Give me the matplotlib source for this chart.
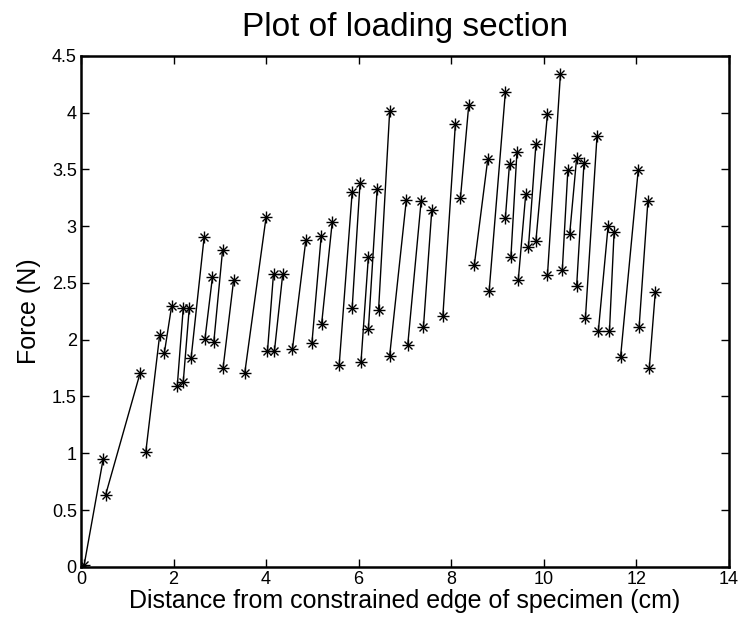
import matplotlib.pyplot as plt
import numpy as np

# each loading section: start (low) point -> end (high) point
x_start = [0.07, 0.53, 1.40, 1.80, 2.08, 2.21, 2.38, 2.68, 2.87, 3.07,
           3.54, 4.03, 4.18, 4.57, 4.99, 5.20, 5.58, 5.86, 6.05, 6.21,
           6.43, 6.67, 7.06, 7.40, 7.82, 8.20, 8.50, 8.82, 9.17, 9.29,
           9.45, 9.67, 9.83, 10.08, 10.40, 10.56, 10.71, 10.90, 11.18, 11.42,
           11.66, 12.06, 12.28]
y_start = [0.02, 0.63, 1.01, 1.88, 1.59, 1.63, 1.84, 2.01, 1.98, 1.75,
           1.71, 1.90, 1.90, 1.92, 1.97, 2.14, 1.78, 2.28, 1.80, 2.09,
           2.26, 1.86, 1.95, 2.11, 2.21, 3.25, 2.66, 2.43, 3.07, 2.73,
           2.53, 2.82, 2.87, 2.57, 2.61, 2.93, 2.47, 2.19, 2.08, 2.08,
           1.85, 2.11, 1.75]
x_end = [0.48, 1.28, 1.70, 1.96, 2.21, 2.34, 2.66, 2.84, 3.06, 3.30,
         4.00, 4.16, 4.36, 4.86, 5.19, 5.43, 5.86, 6.03, 6.21, 6.40,
         6.67, 7.03, 7.35, 7.58, 8.09, 8.38, 8.79, 9.17, 9.26, 9.42,
         9.61, 9.83, 10.08, 10.36, 10.52, 10.71, 10.87, 11.15, 11.39, 11.52,
         12.04, 12.25, 12.41]
y_end = [0.95, 1.71, 2.04, 2.30, 2.28, 2.28, 2.90, 2.55, 2.79, 2.53,
         3.08, 2.58, 2.58, 2.88, 2.91, 3.04, 3.30, 3.38, 2.73, 3.33,
         4.01, 3.23, 3.22, 3.14, 3.90, 4.07, 3.59, 4.18, 3.55, 3.65,
         3.28, 3.72, 3.99, 4.34, 3.49, 3.60, 3.56, 3.79, 3.00, 2.95,
         3.49, 3.22, 2.42]

plt.rcParams['font.family'] = ['Liberation Sans', 'DejaVu Sans']

fig = plt.figure(figsize=(7.43, 6.27), dpi=100)
ax = fig.add_axes([0.109, 0.096, 0.872, 0.815])

xs = np.vstack([x_start, x_end])
ys = np.vstack([y_start, y_end])
# matlab style asterisk = plus + cross
ax.plot(xs, ys, color='black', linestyle='-', linewidth=1, marker='+',
        markersize=9, markeredgewidth=1)
ax.plot(xs, ys, color='black', linestyle='none', marker='x',
        markersize=6.4, markeredgewidth=1)

ax.set_xlim(0, 14)
ax.set_ylim(0, 4.5)
ax.set_xticks(np.arange(0, 15, 2))
ax.set_yticks(np.arange(0, 4.6, 0.5))
ax.set_yticklabels(['0', '0.5', '1', '1.5', '2', '2.5', '3', '3.5', '4', '4.5'])
ax.tick_params(direction='in', top=True, right=True, labelsize=13,
               length=6, width=1, pad=3)
for s in ax.spines.values():
    s.set_linewidth(1.8)

ax.set_title('Plot of loading section', fontsize=24, pad=14)
ax.set_xlabel('Distance from constrained edge of specimen (cm)', fontsize=18, labelpad=1)
ax.set_ylabel('Force (N)', fontsize=18, labelpad=8)

fig.savefig('out.png', dpi=100)
